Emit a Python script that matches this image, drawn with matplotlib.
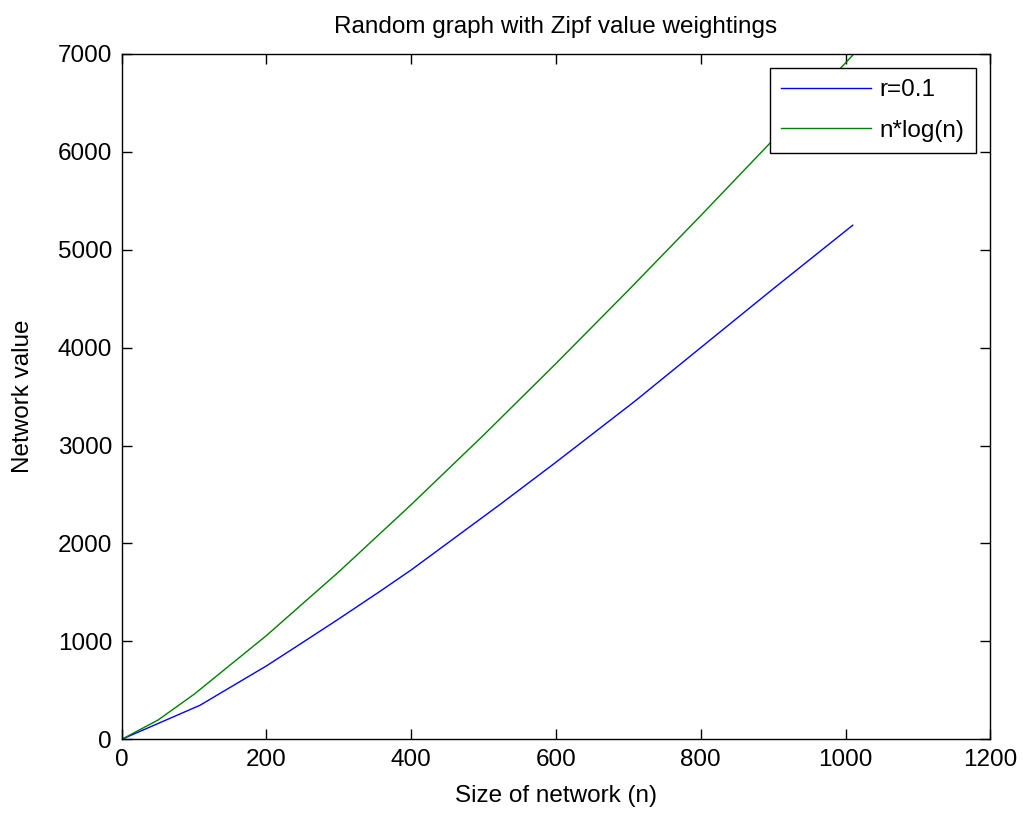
import matplotlib

matplotlib.use("Agg")

import matplotlib.pyplot as plt

plt.rcParams["font.family"] = ["Liberation Sans", "DejaVu Sans"]

# values
n_blue = [0, 108, 200, 246, 300, 357, 400, 523, 600, 709, 800, 900, 1010]
v_blue = [0, 347, 750, 970, 1230, 1512, 1730, 2400, 2830, 3453, 4000, 4600, 5250]

n_green = [0, 50, 100, 200, 300, 400, 500, 600, 700, 800, 900, 1000, 1020]
v_green = [0, 196, 460, 1060, 1711, 2397, 3107, 3838, 4586, 5348, 6122, 6908, 7066]

x_ticks = [0, 200, 400, 600, 800, 1000, 1200]
y_ticks = [0, 1000, 2000, 3000, 4000, 5000, 6000, 7000]

FS = 17.5

fig = plt.figure(figsize=(10.23, 8.16), dpi=100, facecolor="white")
ax = fig.add_axes([0.119, 0.094, 0.849, 0.840])

ax.plot(n_blue, v_blue, color="#0000FF", lw=1.0, label="r=0.1")
ax.plot(n_green, v_green, color="#008000", lw=1.0, label="n*log(n)")

ax.set_xlim(0, 1200)
ax.set_ylim(0, 7000)
ax.set_xticks(x_ticks)
ax.set_yticks(y_ticks)
ax.tick_params(direction="in", top=True, right=True, length=7, width=1.0, labelsize=FS, pad=7)
for s in ax.spines.values():
    s.set_linewidth(1.0)

ax.set_title("Random graph with Zipf value weightings", fontsize=FS, pad=15)
ax.set_xlabel("Size of network (n)", fontsize=FS, labelpad=10)
ax.set_ylabel("Network value", fontsize=FS, labelpad=17)

leg = ax.legend(loc="upper right", fontsize=FS, fancybox=False, framealpha=1.0,
                edgecolor="black", handlelength=3.7, handletextpad=0.35,
                labelspacing=0.75, borderaxespad=0.6, borderpad=0.45)
leg.get_frame().set_linewidth(1.0)

fig.savefig("out.png", dpi=100, facecolor="white")
